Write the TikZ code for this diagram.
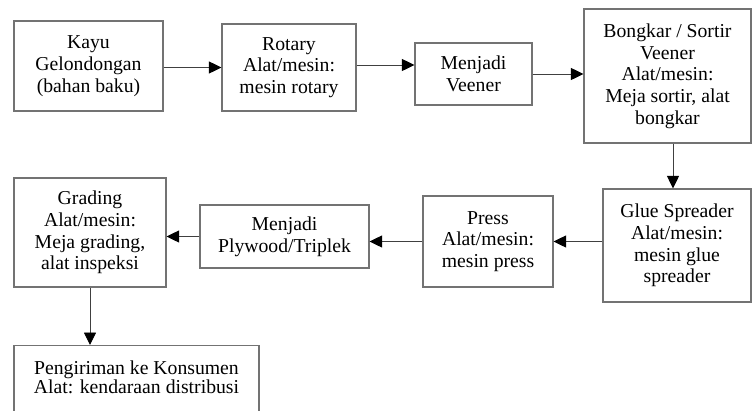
\documentclass[tikz,border=0pt]{standalone}
\usepackage{fontspec}
\setmainfont{Liberation Serif}
\usetikzlibrary{arrows.meta}
\begin{document}
\begin{tikzpicture}[x=1pt,y=-1pt,
  box/.style={draw=black!55, line width=1.1pt, inner sep=0pt, align=center,
    font=\fontsize{19.7}{21.7}\selectfont, text=black},
  arr/.style={draw=black!75, line width=0.9pt, -{Triangle[length=12.5pt,width=12pt,color=black]}}]
\useasboundingbox (0,0) rectangle (752,410);
\clip (0,0) rectangle (752,410);
\node[box, minimum width=149, minimum height=90] (b1) at (88.5,66) {Kayu\\Gelondongan\\(bahan baku)};
\node[box, minimum width=134, minimum height=87] (b2) at (289,67.5) {Rotary\\Alat/mesin:\\mesin rotary};
\node[box, minimum width=117, minimum height=62] (b3) at (473.5,74) {Menjadi\\Veener};
\node[box, minimum width=167, minimum height=134] (b4) at (667.5,76) {Bongkar / Sortir\\Veener\\Alat/mesin:\\Meja sortir, alat\\bongkar};
\node[box, minimum width=148, minimum height=113] (g) at (677,245.5) {Glue Spreader\\Alat/mesin:\\mesin glue\\spreader};
\node[box, minimum width=130, minimum height=91] (p) at (488,241.5) {Press\\Alat/mesin:\\mesin press};
\node[box, minimum width=169, minimum height=63] (ply) at (284.5,236.5) {Menjadi\\Plywood/Triplek};
\node[box, minimum width=152, minimum height=109] (gr) at (90,232.5) {Grading\\Alat/mesin:\\Meja grading,\\alat inspeksi};
\node[box, minimum width=245, minimum height=80, anchor=north, font=\fontsize{19.7}{17}\selectfont] (pk) at (136.5,345) {Pengiriman ke Konsumen\\Alat: kendaraan distribusi\\\phantom{A}};
\coordinate (a23) at ([yshift=2.5pt]b2.east);
\coordinate (a45) at ([xshift=5.5pt]b4.south);
\draw[arr] (b2.west -| b1.east) -- (b2.west);
\draw[arr] (a23) -- (a23 -| b3.west);
\draw[arr] (b3.east) -- (b3.east -| b4.west);
\draw[arr] (a45) -- (a45 |- g.north);
\draw[arr] (p.east -| g.west) -- (p.east);
\draw[arr] (p.west) -- (p.west -| ply.east);
\draw[arr] (ply.west) -- (ply.west -| gr.east);
\draw[arr] (gr.south) -- (gr.south |- pk.north);
\end{tikzpicture}
\end{document}
